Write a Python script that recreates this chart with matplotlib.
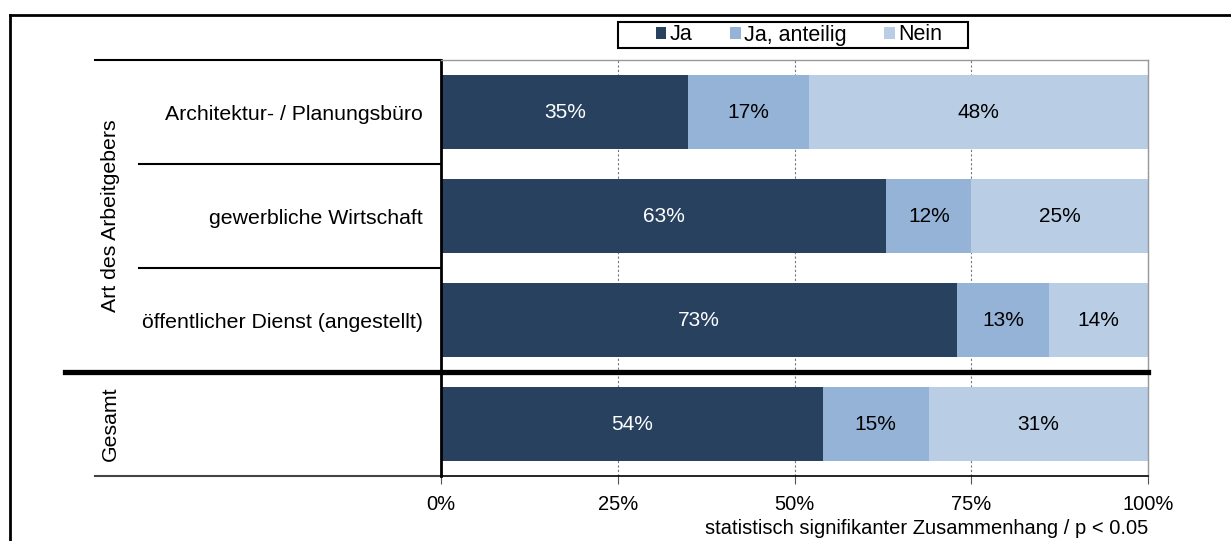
import matplotlib.pyplot as plt
from matplotlib.lines import Line2D
from matplotlib.patches import Patch, Rectangle

plt.rcParams.update({
    "font.family": ["Liberation Sans", "DejaVu Sans"],
    "font.size": 14.5,
})

W, H = 1231, 541

categories = ["Architektur- / Planungsbüro", "gewerbliche Wirtschaft",
              "öffentlicher Dienst (angestellt)", ""]
groups = ["Art des Arbeitgebers", "Gesamt"]
series = ["Ja", "Ja, anteilig", "Nein"]
ja = [35, 63, 73, 54]
ja_anteilig = [17, 12, 13, 15]
nein = [48, 25, 14, 31]
xticks = [0, 25, 50, 75, 100]
note = "statistisch signifikanter Zusammenhang / p < 0.05"

colors = ["#27415F", "#95B3D7", "#B9CDE5"]
text_colors = ["white", "black", "black"]

fig = plt.figure(figsize=(W / 100, H / 100), dpi=100)


def px_x(x):
    return x / W


def px_y(y):
    return 1 - y / H


ax = fig.add_axes([px_x(441), px_y(476), px_x(1148) - px_x(441), px_y(60) - px_y(476)])

ypos = list(range(len(categories)))
left = [0] * len(categories)
for vals, col, tcol, name in zip([ja, ja_anteilig, nein], colors, text_colors, series):
    bars = ax.barh(ypos, vals, left=left, height=0.71, color=col, label=name, zorder=2)
    for b, v, l in zip(bars, vals, left):
        ax.text(l + v / 2, b.get_y() + b.get_height() / 2, f"{v}%",
                ha="center", va="center", color=tcol, fontsize=15, zorder=3)
    left = [a + b for a, b in zip(left, vals)]

ax.set_xlim(0, 100)
ax.set_ylim(len(categories) - 0.5, -0.5)
ax.set_xticks(xticks)
ax.set_xticklabels([f"{t}%" for t in xticks])
ax.set_yticks(ypos)
ax.set_yticklabels(categories, fontsize=15.3)
ax.tick_params(axis="y", length=0, pad=13)
ax.tick_params(axis="x", length=6, width=0.8, color="#555555", pad=8, direction="out")

# dotted vertical gridlines
for t in xticks[1:]:
    ax.axvline(t, color="#777777", lw=0.8, ls=(0, (2, 2)), zorder=1)

ax.spines["top"].set_color("#999999")
ax.spines["top"].set_linewidth(1.0)
ax.spines["right"].set_color("#999999")
ax.spines["right"].set_linewidth(1.0)
ax.spines["left"].set_color("black")
ax.spines["left"].set_linewidth(2.0)
ax.spines["bottom"].set_color("black")
ax.spines["bottom"].set_linewidth(1.2)

ax.set_xlabel(note, fontsize=14.5, loc="right", labelpad=3)

# table rules on the left
ytr = ax.get_yaxis_transform()


def ax_x(px):
    return (px - 441) / (1148 - 441)


rules = [(-0.5, 95, 1.5, "black"), (0.5, 139, 1.5, "black"), (1.5, 139, 1.5, "black"),
         (3.5, 95, 1.5, "#444444")]
for yv, x0, lw, c in rules:
    ax.add_line(Line2D([ax_x(x0), 0], [yv, yv], transform=ytr, color=c, lw=lw,
                       clip_on=False))
ax.add_line(Line2D([ax_x(65), 1], [2.5, 2.5], transform=ytr, color="black", lw=3.8,
                   clip_on=False, zorder=5))

ax.text(ax_x(110), 1.0, groups[0], transform=ytr, rotation=90, ha="center",
        va="center", fontsize=15.3)
ax.text(ax_x(110), 3.0, groups[1], transform=ytr, rotation=90, ha="center",
        va="center", fontsize=15.3)

# outer frame
fig.add_artist(Line2D([px_x(10), px_x(10)], [px_y(15), 0], transform=fig.transFigure,
                      color="black", lw=2.0))
fig.add_artist(Line2D([px_x(10), 1], [px_y(15), px_y(15)], transform=fig.transFigure,
                      color="black", lw=2.0))

# legend entries, with a separate wider box drawn around them
handles = [Patch(facecolor=c, edgecolor="none") for c in colors]
fig.legend(handles, series, loc="center", ncol=3,
           bbox_to_anchor=(px_x(799), px_y(35)), bbox_transform=fig.transFigure,
           frameon=False, fontsize=15.5, handlelength=0.5,
           handleheight=0.5, handletextpad=0.15, columnspacing=1.75,
           borderpad=0.15, borderaxespad=0)
fig.add_artist(Rectangle((px_x(618), px_y(48)), px_x(968) - px_x(618), px_y(22) - px_y(48),
                         transform=fig.transFigure, facecolor="none",
                         edgecolor="black", lw=1.5))

fig.savefig("out.png", dpi=100)
